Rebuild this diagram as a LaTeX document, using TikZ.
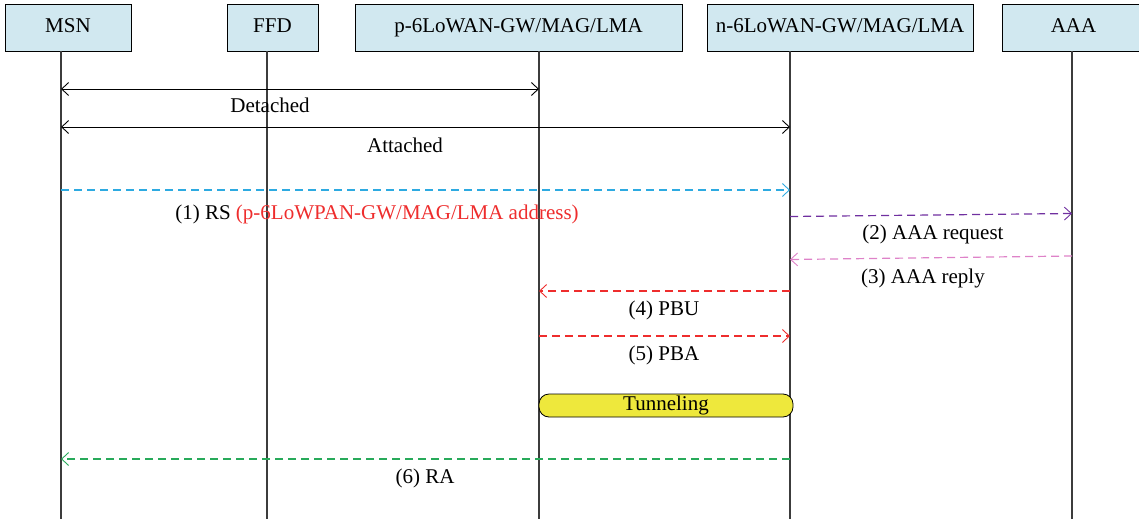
\documentclass[tikz,border=0pt]{standalone}
\usepackage{fontspec}
\setmainfont{Liberation Serif}
\usetikzlibrary{arrows.meta}
\definecolor{headfill}{RGB}{209,232,240}
\definecolor{rscol}{RGB}{45,170,225}
\definecolor{reqcol}{RGB}{112,48,160}
\definecolor{repcol}{RGB}{222,130,200}
\definecolor{pcol}{RGB}{238,45,45}
\definecolor{racol}{RGB}{40,170,90}
\definecolor{tunfill}{RGB}{238,232,60}
\definecolor{lifecol}{RGB}{60,60,60}
\tikzset{
  txt/.style={font=\fontsize{21}{24}\selectfont, inner sep=0pt},
  head/.style={txt, draw=black, fill=headfill, line width=0.8pt,
    text height=14pt, text depth=4pt, minimum height=47pt},
  life/.style={draw=lifecol, line width=1.2pt},
  barb/.tip={Straight Barb[length=7pt,width=13pt,line width=0.9pt]},
  sync/.style={draw=black, line width=1pt, {barb}-{barb}},
  msg/.style={line width=1.2pt, dash pattern=on 8pt off 5pt, -{barb}},
  lbl/.style={txt, anchor=base},
}
\begin{document}
\begin{tikzpicture}[x=1pt,y=-1pt]
\useasboundingbox (0,0) rectangle (1139,519);

% participants
\node[head, minimum width=126pt] (msn) at (68,27.5) {MSN};
\node[head, minimum width=91pt] (ffd) at (272.5,27.5) {FFD};
\node[head, minimum width=327pt] (pgw) at (518.5,27.5) {p-6LoWAN-GW/MAG/LMA};
\node[head, minimum width=266pt] (ngw) at (840,27.5) {n-6LoWAN-GW/MAG/LMA};
\node[head, minimum width=143pt] (aaa) at (1073.5,27.5) {AAA};

% lifelines
\coordinate (msnT) at (61,51);   \coordinate (msnB) at (61,519);
\coordinate (ffdT) at (267,51);  \coordinate (ffdB) at (267,519);
\coordinate (pgwT) at (539,51);  \coordinate (pgwB) at (539,519);
\coordinate (ngwT) at (790,51);  \coordinate (ngwB) at (790,519);
\coordinate (aaaT) at (1072,51); \coordinate (aaaB) at (1072,519);
\foreach \p in {msn,ffd,pgw,ngw,aaa} \draw[life] (\p T) -- (\p B);

% attachment state
\coordinate (d1) at (61,89);  \coordinate (d2) at (539,89);
\draw[sync] (d1) -- (d2);
\node[lbl] (ldet) at (270,112) {Detached};
\coordinate (a1) at (61,127); \coordinate (a2) at (790,127);
\draw[sync] (a1) -- (a2);
\node[lbl] (latt) at (405,152) {Attached};

% (1) router solicitation
\coordinate (rs1) at (61,190); \coordinate (rs2) at (790,190);
\draw[msg, draw=rscol] (rs1) -- (rs2);
\node[lbl] (lrs) at (377,219) {(1) RS \textcolor{pcol}{(p-6LoWPAN-GW/MAG/LMA address)}};

% (2) AAA request
\coordinate (q1) at (790,216.5); \coordinate (q2) at (1072,213.5);
\draw[msg, draw=reqcol] (q1) -- (q2);
\node[lbl] (lreq) at (933,239) {(2) AAA request};

% (3) AAA reply
\coordinate (r1) at (1072,256); \coordinate (r2) at (790,259.5);
\draw[msg, draw=repcol] (r1) -- (r2);
\node[lbl] (lrep) at (923,283) {(3) AAA reply};

% (4) PBU
\coordinate (u1) at (790,291); \coordinate (u2) at (539,291);
\draw[msg, draw=pcol] (u1) -- (u2);
\node[lbl] (lpbu) at (664,315) {(4) PBU};

% (5) PBA
\coordinate (b1) at (539,336); \coordinate (b2) at (790,336);
\draw[msg, draw=pcol] (b1) -- (b2);
\node[lbl] (lpba) at (664,360) {(5) PBA};

% tunnel between gateways
\node[txt, draw=black, fill=tunfill, line width=0.8pt, rounded corners=10pt,
      minimum width=254pt, minimum height=23pt, text height=14pt, text depth=4pt]
      (tun) at (666,405.5) {Tunneling};

% (6) router advertisement
\coordinate (ra1) at (790,459); \coordinate (ra2) at (61,459);
\draw[msg, draw=racol] (ra1) -- (ra2);
\node[lbl] (lra) at (425,483) {(6) RA};
\end{tikzpicture}
\end{document}
